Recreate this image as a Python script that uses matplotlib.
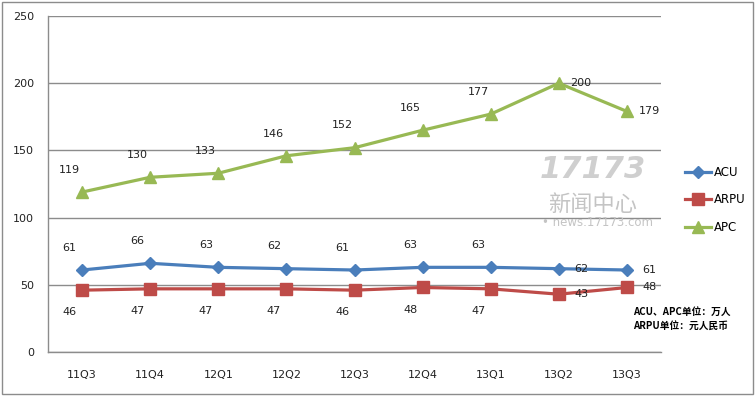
import matplotlib.pyplot as plt
from matplotlib.patches import Rectangle

plt.rcParams['font.family'] = ['DejaVu Sans', 'Noto Sans CJK SC']

quarters = ['11Q3', '11Q4', '12Q1', '12Q2', '12Q3', '12Q4', '13Q1', '13Q2', '13Q3']
acu = [61, 66, 63, 62, 61, 63, 63, 62, 61]
arpu = [46, 47, 47, 47, 46, 48, 47, 43, 48]
apc = [119, 130, 133, 146, 152, 165, 177, 200, 179]

c_acu = '#4A7EBB'
c_arpu = '#BE4B48'
c_apc = '#98B954'

fig = plt.figure(figsize=(7.55, 3.96), dpi=100)
ax = fig.add_axes([48 / 755, 1 - 352 / 396, 613 / 755, 336 / 396])

x = list(range(len(quarters)))
ax.plot(x, acu, color=c_acu, lw=2.3, marker='D', ms=6, label='ACU', zorder=3)
ax.plot(x, arpu, color=c_arpu, lw=2.3, marker='s', ms=8, label='ARPU', zorder=3)
ax.plot(x, apc, color=c_apc, lw=2.3, marker='^', ms=8, label='APC', zorder=3)

# data labels: above-left for ACU/APC, below-left for ARPU, right for the last two
def put_labels(vals, dy):
    for i, v in enumerate(vals):
        if i >= len(vals) - 2:
            off = (16, 0)
        else:
            off = (-9, dy)
        ax.annotate(str(v), (i, v), xytext=off, textcoords='offset points',
                    ha='center', va='center', fontsize=8, color='#222222')

put_labels(acu, 16)
put_labels(arpu, -16)
put_labels(apc, 16)

ax.set_xlim(-0.5, len(quarters) - 0.5)
ax.set_ylim(0, 250)
ax.set_yticks([0, 50, 100, 150, 200, 250])
ax.set_xticks(x)
ax.set_xticklabels(quarters)
ax.tick_params(axis='both', length=0, labelsize=8, colors='#222222')
ax.tick_params(axis='x', pad=13)
ax.tick_params(axis='y', pad=10)
ax.grid(axis='y', color='#8c8c8c', lw=1)
ax.set_axisbelow(True)
for s in ['top', 'right']:
    ax.spines[s].set_visible(False)
for s in ['left', 'bottom']:
    ax.spines[s].set_color('#8c8c8c')
    ax.spines[s].set_linewidth(1)

fig.legend(loc='upper left', bbox_to_anchor=(680 / 755, 1 - 161 / 396),
           frameon=False, fontsize=8.5, handlelength=2.2, labelspacing=1.25,
           handletextpad=0.3, borderaxespad=0)

# watermark
fig.text(593 / 755, 1 - 170 / 396, '17173', fontsize=22, fontweight='bold',
         color='#cfcfcf', ha='center', va='center', style='italic', zorder=0)
fig.text(593 / 755, 1 - 205 / 396, '新闻中心', fontsize=16, color='#c4c4c4',
         ha='center', va='center', family=['Noto Sans CJK SC', 'DejaVu Sans'], zorder=0)
fig.text(597 / 755, 1 - 223 / 396, '• news.17173.com', fontsize=8.5, color='#c4c4c4',
         ha='center', va='center', zorder=0)

note_font = ['Noto Sans CJK SC', 'DejaVu Sans']
fig.text(633 / 755, 1 - 312 / 396, 'ACU、APC单位：万人', fontsize=7, fontweight='bold',
         ha='left', va='center', family=note_font)
fig.text(633 / 755, 1 - 326 / 396, 'ARPU单位：元人民币', fontsize=7, fontweight='bold',
         ha='left', va='center', family=note_font)

# outer chart border
fig.patches.append(Rectangle((2 / 755, 2 / 396), 751 / 755, 392 / 396,
                             transform=fig.transFigure, fill=False,
                             edgecolor='#8c8c8c', lw=1))

fig.savefig('out.png', dpi=100)
